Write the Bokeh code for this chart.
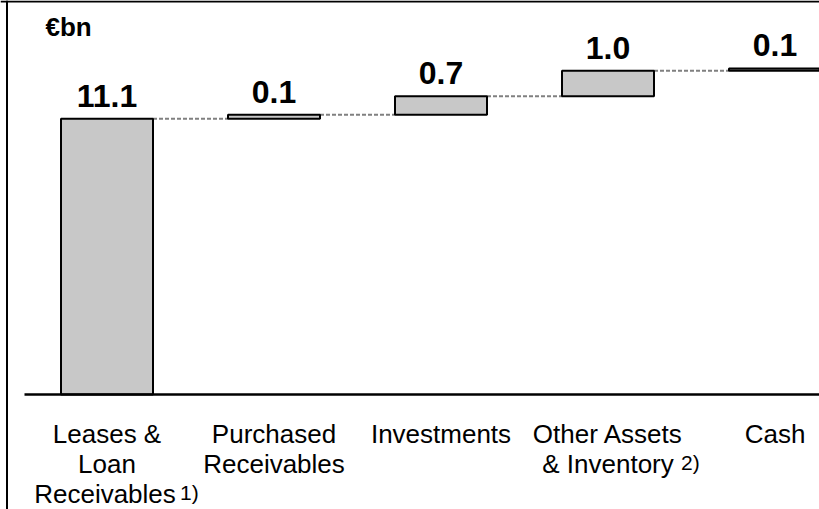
import numpy as np
from bokeh.plotting import figure
from bokeh.models import Range1d, Span
from bokeh.core.properties import value
from bokeh.embed import file_html
from bokeh.resources import INLINE

# ---------------- data ----------------
categories = ["Leases & Loan Receivables", "Purchased Receivables", "Investments",
              "Other Assets & Inventory", "Cash"]
values = [11.1, 0.16, 0.74, 1.03, 0.09]          # bar heights (€bn)
value_labels = ["11.1", "0.1", "0.7", "1.0", "0.1"]
label_lines = [["Leases &", "Loan", "Receivables"],
               ["Purchased", "Receivables"],
               ["Investments"],
               ["Other Assets", "& Inventory"],
               ["Cash"]]
footnote_cat = [0, 3]
footnote_line = [2, 1]
footnote_text = ["1)", "2)"]
unit_label = "€bn"

# ---------------- layout / style ----------------
W, H = 819, 509
PPC = 167.0        # pixels per category
C0_PX = 106.5      # pixel x of first category centre
PPU = 24.85        # pixels per €bn
Y0_PX = 394.0      # pixel y of zero baseline
BAR_W = 92.0 / PPC
FONT = value("Liberation Sans")
BL_CORR = 0.38     # baseline correction (fraction of font size)
VAL_FS, CAT_FS, FOOT_FS, UNIT_FS = 32, 26, 21, 26
LINE_PX = [443.0, 473.0, 503.0]   # baselines of label lines
LINE_DX = {(0, 2): -2}
FOOT_DX = [73, 73]

x_range = Range1d(-C0_PX / PPC, (W - C0_PX) / PPC)
y_range = Range1d(-(H - Y0_PX) / PPU, Y0_PX / PPU)


def py(px):
    """pixel row -> data y"""
    return (Y0_PX - px) / PPU


p = figure(width=W, height=H, x_range=x_range, y_range=y_range,
           output_backend="svg", toolbar_location=None,
           x_axis_location=None, y_axis_location=None, min_border=0)
p.grid.visible = False
p.outline_line_color = None
p.background_fill_color = "white"
p.border_fill_color = "white"

xs = np.arange(len(values), dtype=float)
ends = np.cumsum(values)
starts = ends - np.array(values)

# connectors
p.segment(x0=xs[:-1] + BAR_W / 2, y0=ends[:-1], x1=xs[1:] - BAR_W / 2, y1=ends[:-1],
          line_color="#808080", line_width=2, line_dash="4 2")

# bars
p.vbar(x=xs, bottom=starts, top=ends, width=BAR_W,
       fill_color="#C8C8C8", line_color="black", line_width=2)

# baseline
p.segment(x0=[x_range.start + 24 / PPC], y0=[0], x1=[x_range.end], y1=[0],
          line_color="black", line_width=2.5)

# value labels
p.text(x=xs, y=ends + (11 + BL_CORR * VAL_FS) / PPU, text=value_labels,
       text_align="center", text_baseline="alphabetic", text_font=FONT,
       text_font_style="bold", text_font_size=f"{VAL_FS}px", text_color="black")

# category labels
lx, ly, lt, lo = [], [], [], []
for i, lines in enumerate(label_lines):
    for k, t in enumerate(lines):
        lx.append(xs[i])
        ly.append(py(LINE_PX[k] - BL_CORR * CAT_FS))
        lt.append(t)
        lo.append(LINE_DX.get((i, k), 0))
p.text(x=lx, y=ly, text=lt, x_offset=lo, text_align="center",
       text_baseline="alphabetic", text_font=FONT, text_font_size=f"{CAT_FS}px",
       text_color="black")

# footnote markers
fx = [xs[c] for c in footnote_cat]
fy = [py(LINE_PX[k] - 3 - BL_CORR * FOOT_FS) for k in footnote_line]
p.text(x=fx, y=fy, text=footnote_text, x_offset=FOOT_DX, text_align="left",
       text_baseline="alphabetic", text_font=FONT, text_font_size=f"{FOOT_FS}px",
       text_color="black")

# unit label
p.text(x=[x_range.start + 45 / PPC], y=[py(36 - BL_CORR * UNIT_FS)], text=[unit_label],
       text_align="left", text_baseline="alphabetic", text_font=FONT,
       text_font_style="bold", text_font_size=f"{UNIT_FS}px", text_color="black")

# frame (left + top border)
p.add_layout(Span(location=x_range.start + 6.5 / PPC, dimension="height",
                  line_color="black", line_width=2))
p.add_layout(Span(location=y_range.end - 1 / PPU, dimension="width",
                  line_color="black", line_width=2))

open("out.html", "w").write(file_html(p, INLINE))
